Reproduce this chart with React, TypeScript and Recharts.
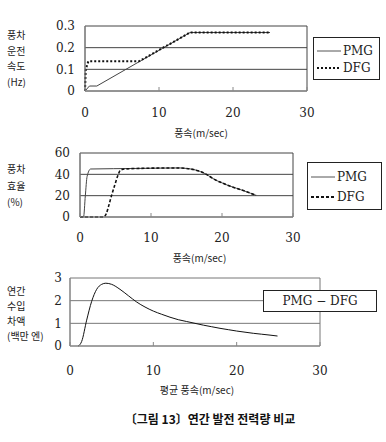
import { LineChart, Line, XAxis, YAxis, CartesianGrid, Label } from 'recharts'

const serif = '"DejaVu Serif", serif'
const sans = '"Noto Sans CJK KR", "Noto Sans", sans-serif'

const xTicks = [0, 10, 20, 30]
const seriesNames = ['PMG', 'DFG']

// 풍차 운전 속도 (Hz)
const speedTicks = [0, 0.1, 0.2, 0.3]
const pmgSpeedX = [0, 0.6, 1.6, 14.2, 25]
const pmgSpeedY = [0, 0.023, 0.023, 0.27, 0.27]
const dfgSpeedX = [0, 0.1, 0.45, 7.3, 14.2, 25]
const dfgSpeedY = [0, 0.1, 0.137, 0.137, 0.27, 0.27]

// 풍차 효율 (%)
const effTicks = [0, 20, 40, 60]
const effTailX = [15, 16, 17, 17.8, 18.5, 19, 20, 21, 22, 23, 24, 24.8]
const effTailY = [45.5, 44.5, 42.5, 40, 37, 35, 32, 29.2, 27, 24.8, 22.3, 20.3]
const pmgEffX = [0, 0.5, 0.75, 1.0, 1.5, 8, 14]
const pmgEffY = [0, 0, 20, 38, 45, 45.5, 46]
const dfgEffX = [0, 3.3, 3.7, 4.0, 4.46, 4.9, 5.4, 5.7, 6.3, 8, 14]
const dfgEffY = [0, 0, 3, 9.5, 20.5, 30, 40, 44, 45, 45.5, 46]

// 연간 수입 차액 (백만 엔)
const revTicks = [0, 1, 2, 3]
const revX = [1.0, 1.4, 2.0, 2.6, 3.2, 3.8, 4.3, 5, 6, 7, 8, 9, 10, 11, 12, 13, 14, 15, 16, 17, 18, 19, 20, 21, 22, 23, 24, 24.9]
const revY = [0, 0.2, 1.14, 1.97, 2.5, 2.72, 2.77, 2.72, 2.5, 2.22, 1.94, 1.72, 1.54, 1.4, 1.27, 1.16, 1.08, 1.0, 0.92, 0.85, 0.78, 0.72, 0.66, 0.61, 0.56, 0.52, 0.48, 0.44]

const zip = (xs: number[], ys: number[]) => xs.map((x, i) => ({ x, y: ys[i] }))

const pmgSpeed = zip(pmgSpeedX, pmgSpeedY)
const dfgSpeed = zip(dfgSpeedX, dfgSpeedY)
const pmgEff = zip([...pmgEffX, ...effTailX], [...pmgEffY, ...effTailY])
const dfgEff = zip([...dfgEffX, ...effTailX], [...dfgEffY, ...effTailY])
const revenue = zip(revX, revY)

const tickStyle = { fontFamily: serif, fontSize: 12, fill: '#222' }
const titleStyle = { fontFamily: sans, fontSize: 10, fill: '#222' }

const frameLines = ({ offset }: any) => [offset.left, offset.left + offset.width]

function SeriesLegend({ dash, left, top, width, height }: { dash: string; left: number; top: number; width: number; height: number }) {
  return (
    <div style={{ position: 'absolute', left, top, width, height, border: '1px solid #222', background: '#fff', boxSizing: 'border-box', padding: '4px 0 0 3px', fontFamily: serif, fontSize: 12, color: '#222' }}>
      {seriesNames.map((n, i) => (
        <div key={n} style={{ display: 'flex', alignItems: 'center', height: (height - 8) / 2 }}>
          <svg width={24} height={6}>
            <line x1={0} y1={3} x2={24} y2={3} stroke={i ? '#111' : '#555'} strokeWidth={i ? 2 : 1} strokeDasharray={i ? dash : undefined} />
          </svg>
          <span style={{ marginLeft: 2 }}>{n}</span>
        </div>
      ))}
    </div>
  )
}

function YTitle({ lines, top, lh }: { lines: string[]; top: number; lh: number }) {
  return (
    <div style={{ position: 'absolute', left: 7, top, fontFamily: sans, fontSize: 10, lineHeight: `${lh}px`, color: '#222', whiteSpace: 'nowrap' }}>
      {lines.map((l) => (
        <div key={l}>{l}</div>
      ))}
    </div>
  )
}

export default function App() {
  return (
    <div style={{ position: 'absolute', left: 0, top: 0, width: 386, height: 442, overflow: 'hidden', background: '#fff' }}>
      <style>{`.recharts-cartesian-axis-tick-value { font-family: ${serif}; }`}</style>
      <div style={{ position: 'absolute', left: 0, top: 0 }}>
        <LineChart width={386} height={145} margin={{ top: 26, right: 79, left: 0, bottom: 4 }}>
          <CartesianGrid horizontal vertical stroke="#444" verticalCoordinatesGenerator={frameLines} />
          <XAxis type="number" dataKey="x" domain={[0, 30]} ticks={xTicks} interval={0} height={50} tickSize={-4} tickMargin={21} tick={tickStyle} stroke="#888">
            <Label value="풍속(m/sec)" position="insideBottom" offset={4} dx={5} style={titleStyle} />
          </XAxis>
          <YAxis type="number" domain={[0, 0.3]} ticks={speedTicks} interval={0} width={85} tickLine={false} tickSize={0} tickMargin={10} tick={tickStyle} stroke="#888" />
          <Line name="PMG" data={pmgSpeed} dataKey="y" type="linear" stroke="#444" strokeWidth={1} dot={false} isAnimationActive={false} />
          <Line name="DFG" data={dfgSpeed} dataKey="y" type="linear" stroke="#111" strokeWidth={2} strokeDasharray="2 2" dot={false} isAnimationActive={false} />
        </LineChart>
      </div>
      <SeriesLegend dash="2 2" left={313} top={37} width={67} height={43} />
      <YTitle lines={['풍차', '운전', '속도', '(Hz)']} top={27} lh={15.7} />

      <div style={{ position: 'absolute', left: 0, top: 140 }}>
        <LineChart width={386} height={130} margin={{ top: 13, right: 93, left: 0, bottom: 3 }}>
          <CartesianGrid horizontal vertical stroke="#444" verticalCoordinatesGenerator={frameLines} />
          <XAxis type="number" dataKey="x" domain={[0, 30]} ticks={xTicks} interval={0} height={50} tickSize={-4} tickMargin={20} tick={tickStyle} stroke="#888">
            <Label value="풍속(m/sec)" position="insideBottom" offset={5} dx={13} style={titleStyle} />
          </XAxis>
          <YAxis type="number" domain={[0, 60]} ticks={effTicks} interval={0} width={80} tickLine={false} tickSize={0} tickMargin={10} tick={tickStyle} stroke="#888" />
          <Line name="PMG" data={pmgEff} dataKey="y" type="monotone" stroke="#444" strokeWidth={1} dot={false} isAnimationActive={false} />
          <Line name="DFG" data={dfgEff} dataKey="y" type="monotone" stroke="#111" strokeWidth={1.6} strokeDasharray="3 2" dot={false} isAnimationActive={false} />
        </LineChart>
      </div>
      <SeriesLegend dash="3 2" left={307} top={162} width={75} height={48} />
      <YTitle lines={['풍차', '효율', '(%)']} top={161} lh={16.5} />

      <div style={{ position: 'absolute', left: 0, top: 270 }}>
        <LineChart width={386} height={130} margin={{ top: 8, right: 66, left: 0, bottom: 4 }}>
          <CartesianGrid horizontal vertical stroke="#777" verticalCoordinatesGenerator={frameLines} />
          <XAxis type="number" dataKey="x" domain={[0, 30]} ticks={xTicks} interval={0} height={50} tickSize={-4} tickMargin={24} tick={tickStyle} stroke="#888">
            <Label value="평균 풍속(m/sec)" position="insideBottom" offset={2} dx={2} style={titleStyle} />
          </XAxis>
          <YAxis type="number" domain={[0, 3]} ticks={revTicks} interval={0} width={70} tickLine={false} tickSize={0} tickMargin={8} tick={tickStyle} stroke="#888" />
          <Line name="PMG − DFG" data={revenue} dataKey="y" type="monotone" stroke="#111" strokeWidth={1} dot={false} isAnimationActive={false} />
        </LineChart>
      </div>
      <div style={{ position: 'absolute', left: 263, top: 290, width: 114, height: 22, border: '1px solid #222', background: '#fff', boxSizing: 'border-box', fontFamily: serif, fontSize: 12, color: '#222', textAlign: 'center', lineHeight: '20px' }}>
        PMG − DFG
      </div>
      <YTitle lines={['연간', '수입', '차액', '(백만 엔)']} top={283} lh={15} />

      <div style={{ position: 'absolute', left: 0, top: 410, width: 420, textAlign: 'center', fontFamily: sans, fontSize: 12, fontWeight: 700, color: '#111' }}>
        〔그림 13〕연간 발전 전력량 비교
      </div>
    </div>
  )
}
